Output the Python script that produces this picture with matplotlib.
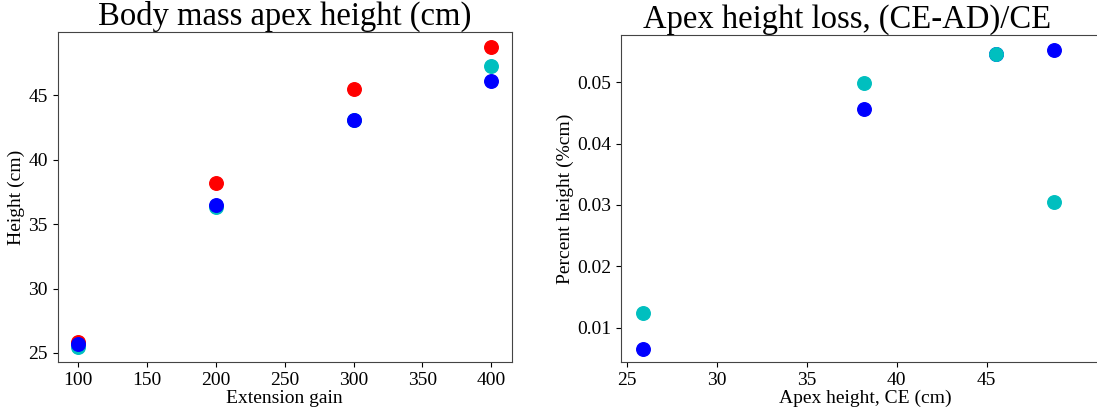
import matplotlib
matplotlib.use("Agg")
import matplotlib.pyplot as plt

plt.rcParams['font.family'] = ['Liberation Serif', 'DejaVu Serif']

# Left panel data
extension_gain = [100, 200, 300, 400]
height_red = [25.85, 38.2, 45.5, 48.75]
height_cyan = [25.45, 36.3, 43.05, 47.3]
height_blue = [25.7, 36.5, 43.08, 46.1]

# Right panel data
apex_ce = [25.85, 38.2, 45.5, 48.75]
loss_blue = [0.0066, 0.0457, 0.0546, 0.0553]
loss_cyan = [0.01245, 0.0498, 0.0546, 0.0305]

W, H = 1097, 412
fig = plt.figure(figsize=(W / 100, H / 100), dpi=100)

def axrect(l, r, t, b):
    return [l / W, 1 - b / H, (r - l) / W, (b - t) / H]

ax1 = fig.add_axes(axrect(57.5, 512, 32, 362))
ax2 = fig.add_axes(axrect(621, 1110, 35, 362))

ms = 95
ax1.scatter(extension_gain, height_red, s=ms, color='r', zorder=3)
ax1.scatter(extension_gain, height_cyan, s=ms, color='c', zorder=3)
ax1.scatter(extension_gain, height_blue, s=ms, color='b', zorder=3)
ax1.set_xlim(85, 415)
ax1.set_ylim(24.3, 49.9)
ax1.set_xticks([100, 150, 200, 250, 300, 350, 400])
ax1.set_yticks([25, 30, 35, 40, 45])
ax1.set_title('Body mass apex height (cm)', fontsize=23.5, pad=3)
ax1.set_xlabel('Extension gain', fontsize=14, labelpad=1)
ax1.set_ylabel('Height (cm)', fontsize=14, labelpad=2)

ax2.scatter(apex_ce, loss_blue, s=ms, color='b', zorder=3)
ax2.scatter(apex_ce, loss_cyan, s=ms, color='c', zorder=3)
ax2.set_xlim(24.65, 24.65 + (1110 - 621) / 17.97)
ax2.set_ylim(0.0044, 0.0577)
ax2.set_xticks([25, 30, 35, 40, 45])
ax2.set_yticks([0.01, 0.02, 0.03, 0.04, 0.05])
ax2.set_title('Apex height loss, (CE-AD)/CE', fontsize=23.5, pad=3,
              x=(1074 - 621) / 2 / (1110 - 621))
ax2.set_xlabel('Apex height, CE (cm)', fontsize=14, labelpad=1)
ax2.set_ylabel('Percent height (%cm)', fontsize=14, labelpad=2)

for ax in (ax1, ax2):
    ax.tick_params(labelsize=14)
    for sp in ax.spines.values():
        sp.set_color('#444444')

fig.savefig('out.png', dpi=100)
